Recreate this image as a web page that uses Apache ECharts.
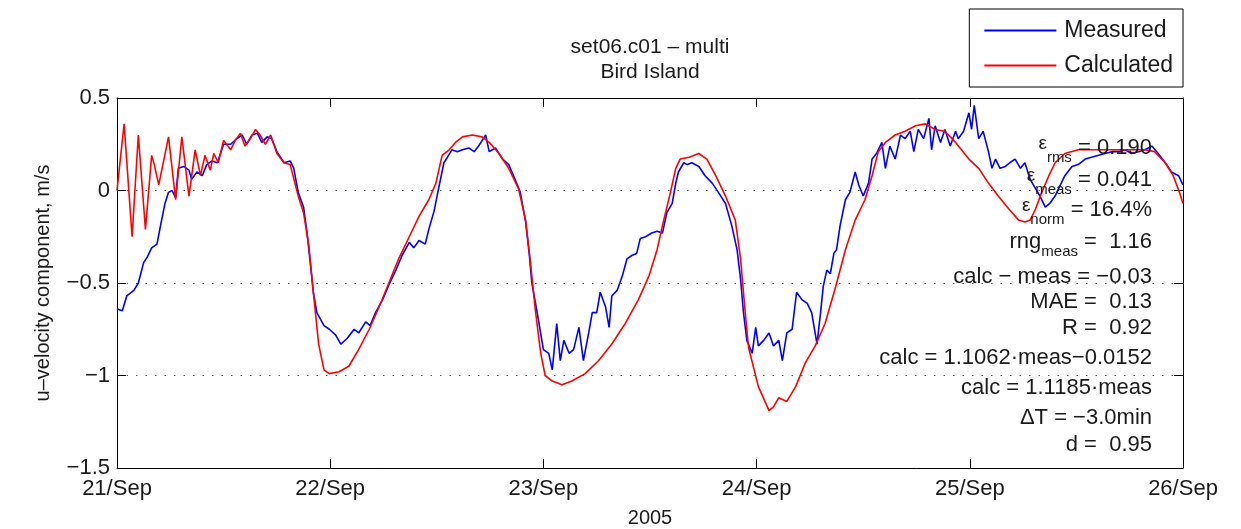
<!DOCTYPE html>
<html>
<head>
<meta charset="utf-8">
<script src="https://cdn.jsdelivr.net/npm/echarts@6/dist/echarts.min.js"></script>
<style>html,body{margin:0;padding:0;background:#fff}#c{width:1241px;height:529px}</style>
</head>
<body>
<div id="c"></div>
<script>
// ---- data (time in hours since 21/Sep 00:00, u-velocity in m/s) ----
const dayLabels = ['21/Sep', '22/Sep', '23/Sep', '24/Sep', '25/Sep', '26/Sep'];
const yTickValues = [-1.5, -1, -0.5, 0, 0.5];
const yTickLabels = ['\u22121.5', '\u22121', '\u22120.5', '0', '0.5'];
const yearLabel = '2005';
const titleLines = ['set06.c01 \u2013 multi', 'Bird Island'];
const yAxisTitle = 'u\u2013velocity component, m/s';
const seriesNames = ['Measured', 'Calculated'];

const measuredHours = [0,0.6,1.1,1.9,2.4,3.0,3.4,3.9,4.5,4.9,5.4,5.8,6.2,6.6,6.9,7.5,8.1,8.4,9.0,9.6,10.1,10.7,11.3,12.0,12.8,13.5,14.1,14.6,15.2,15.8,16.3,16.9,17.4,18.0,18.8,19.5,19.9,20.4,21.0,21.4,21.8,22.1,22.5,23.3,
23.9,24.6,25.2,25.9,26.7,27.2,28.0,28.5,29.1,29.9,30.6,31.4,32.1,32.9,33.4,34.0,34.7,35.1,35.7,36.2,36.8,37.2,37.7,38.3,38.9,39.6,40.2,40.7,41.5,41.9,42.6,43.4,44.1,44.9,45.4,46.0,46.4,46.7,47.3,
48.0,48.6,49.0,49.5,49.9,50.3,50.9,51.4,52.0,52.5,53.1,53.5,54.0,54.4,55.0,55.4,55.7,56.3,56.9,57.4,58.0,58.5,58.9,59.5,60.2,60.8,61.4,61.9,62.5,62.9,63.2,63.8,64.2,64.7,65.5,66.2,67.0,67.7,68.5,69.2,69.8,70.2,70.5,70.9,
71.5,71.9,72.2,72.8,73.4,73.9,74.5,74.9,75.4,76.0,76.5,77.1,77.7,78.2,78.8,79.2,79.5,79.9,80.3,80.7,81.0,81.4,82.0,82.5,83.1,83.5,84.0,84.6,85.0,85.5,86.1,86.5,87.0,87.6,88.2,88.7,89.3,89.7,90.2,90.8,91.4,91.7,92.1,92.7,93.2,93.8,94.4,
94.7,95.3,95.9,96.2,96.5,97.0,97.5,98.1,98.5,98.9,99.4,100.0,100.5,101.1,101.7,102.2,102.8,103.4,103.9,104.5,105.0,105.6,106.2,106.7,107.5,108.2,109.0,109.7,110.5,111.2,112.0,112.7,113.5,114.2,115.0,115.7,116.5,117.2,118.0,118.7,119.5,120.0];
const measuredValues = [-0.64,-0.65,-0.57,-0.54,-0.50,-0.39,-0.36,-0.31,-0.29,-0.19,-0.07,-0.01,0.00,-0.04,0.12,0.13,0.11,0.06,0.10,0.08,0.14,0.16,0.15,0.25,0.25,0.28,0.30,0.25,0.30,0.31,0.26,0.29,0.28,0.21,0.15,0.16,0.12,-0.01,-0.09,-0.23,-0.41,-0.55,-0.66,-0.73,
-0.75,-0.78,-0.83,-0.80,-0.75,-0.77,-0.71,-0.73,-0.66,-0.59,-0.51,-0.43,-0.35,-0.28,-0.31,-0.27,-0.29,-0.21,-0.11,0.01,0.15,0.18,0.22,0.21,0.22,0.23,0.21,0.24,0.30,0.21,0.23,0.17,0.14,0.05,-0.01,-0.17,-0.34,-0.50,-0.66,
-0.86,-0.88,-0.97,-0.72,-0.92,-0.81,-0.88,-0.86,-0.74,-0.92,-0.77,-0.66,-0.66,-0.55,-0.63,-0.74,-0.57,-0.54,-0.46,-0.37,-0.35,-0.34,-0.26,-0.25,-0.23,-0.22,-0.23,-0.12,-0.07,0.04,0.10,0.15,0.14,0.15,0.13,0.08,0.04,-0.01,-0.07,-0.19,-0.32,-0.48,-0.65,-0.81,
-0.88,-0.74,-0.84,-0.81,-0.77,-0.84,-0.81,-0.92,-0.77,-0.75,-0.55,-0.59,-0.61,-0.66,-0.83,-0.66,-0.52,-0.43,-0.45,-0.34,-0.32,-0.19,-0.05,-0.01,0.10,0.03,-0.03,0.04,0.17,0.20,0.26,0.12,0.24,0.17,0.30,0.28,0.32,0.21,0.33,0.28,0.39,0.22,0.35,0.26,0.33,0.24,0.32,
0.28,0.32,0.42,0.33,0.46,0.28,0.32,0.21,0.12,0.17,0.12,0.13,0.15,0.17,0.12,0.15,0.06,0.01,-0.03,-0.09,-0.07,-0.03,0.03,0.08,0.13,0.14,0.17,0.18,0.19,0.20,0.21,0.21,0.22,0.20,0.21,0.22,0.24,0.20,0.15,0.10,0.08,0.03];

const calculatedHours = [0,0.8,1.7,2.4,3.2,3.9,4.2,4.7,5.8,6.6,7.3,8.1,8.8,9.4,9.9,10.5,10.9,11.4,12.0,12.8,13.3,13.9,14.4,15.0,15.6,16.1,16.7,17.3,18.0,18.8,19.5,20.4,21.0,21.6,22.1,22.7,23.3,
23.9,25.0,26.1,27.2,28.4,29.5,30.6,31.7,32.9,34.0,35.1,35.9,36.6,37.4,38.1,38.9,40.0,41.1,41.9,43.0,44.1,45.2,46.0,46.5,47.1,47.7,
48.2,49.0,50.1,51.2,52.7,54.2,55.7,57.2,58.7,59.9,60.8,61.5,62.3,62.9,63.4,64.4,65.5,66.4,67.4,68.5,69.6,70.2,70.7,
71.1,72.2,73.4,73.9,74.5,75.4,76.4,77.5,78.6,79.7,80.9,82.0,83.1,84.2,85.0,85.7,86.5,87.6,88.7,89.9,91.0,92.1,93.2,94.4,
95.9,97.0,98.1,99.2,100.4,101.5,102.2,102.8,103.4,104.1,104.9,105.6,106.7,108.2,109.7,111.2,112.7,114.2,115.7,116.8,118.0,118.9,119.6,120.0];
const calculatedValues = [0,0.36,-0.25,0.30,-0.21,0.19,0.14,0.03,0.29,-0.05,0.29,-0.03,0.22,0.08,0.19,0.11,0.20,0.15,0.27,0.22,0.27,0.31,0.24,0.28,0.33,0.30,0.25,0.30,0.20,0.15,0.14,-0.03,-0.12,-0.30,-0.55,-0.83,-0.97,
-0.99,-0.98,-0.95,-0.86,-0.75,-0.63,-0.50,-0.37,-0.25,-0.14,-0.05,0.04,0.19,0.22,0.26,0.29,0.30,0.29,0.26,0.20,0.12,0.01,-0.16,-0.37,-0.65,-0.88,
-1.00,-1.03,-1.05,-1.03,-0.99,-0.92,-0.83,-0.72,-0.59,-0.46,-0.32,-0.17,-0.01,0.12,0.17,0.18,0.20,0.17,0.08,-0.03,-0.16,-0.37,-0.65,
-0.85,-1.06,-1.19,-1.17,-1.12,-1.14,-1.06,-0.93,-0.84,-0.72,-0.52,-0.32,-0.16,-0.05,0.08,0.21,0.26,0.30,0.32,0.35,0.36,0.33,0.32,0.26,
0.17,0.12,0.04,-0.03,-0.10,-0.16,-0.17,-0.16,-0.10,-0.01,0.08,0.15,0.20,0.22,0.22,0.22,0.22,0.22,0.22,0.21,0.15,0.08,-0.01,-0.07];

// statistics block (rich text: {m|main} {s|subscript})
const statLines = [
  '{e|\u03b5}{s|rms}{m| = 0.190}',
  '{e|\u03b5}{s|meas}{m| = 0.041}',
  '{e|\u03b5}{s|norm}{m| = 16.4%}',
  '{m|rng}{s|meas}{m| =  1.16}',
  '{m|calc \u2212 meas = \u22120.03}',
  '{m|MAE =  0.13}',
  '{m|R =  0.92}',
  '{m|calc = 1.1062\u00b7meas\u22120.0152}',
  '{m|calc = 1.1185\u00b7meas}',
  '{m|\u0394T = \u22123.0min}',
  '{m|d =  0.95}'
];
const statCenters = [148, 180, 210, 242, 277, 302, 328, 358, 388, 418, 445];

// ---- chart ----
const FONT = "'Liberation Sans', Arial, Helvetica, sans-serif";
const TXT = '#1a1a1a';
const zip = (a, b) => a.map((v, i) => [v, b[i]]);

const chart = echarts.init(document.getElementById('c'), null, {renderer: 'canvas'});

const axisCommon = {
  type: 'value',
  axisLine: {show: true, onZero: false, lineStyle: {color: '#000', width: 1}},
  axisTick: {show: true, inside: true, length: 9, lineStyle: {color: '#000', width: 1}},
  splitLine: {show: false},
};

const richStyles = {
  m: {fontSize: 22, lineHeight: 22, verticalAlign: 'top', fill: TXT, fontFamily: FONT},
  e: {fontSize: 19, lineHeight: 22, verticalAlign: 'top', fill: TXT, fontFamily: FONT, padding: [-3, 0, 0, 0]},
  s: {fontSize: 15, lineHeight: 15, verticalAlign: 'top', fill: TXT, fontFamily: FONT, padding: [13, 0, 0, 0]}
};

const graphics = [
  {type: 'text', x: 650, y: 47, style: {text: titleLines[0], fill: TXT, font: '21px ' + FONT, align: 'center', verticalAlign: 'middle'}},
  {type: 'text', x: 650, y: 72, style: {text: titleLines[1], fill: TXT, font: '21px ' + FONT, align: 'center', verticalAlign: 'middle'}},
  {type: 'text', x: 43, y: 283, rotation: Math.PI / 2, style: {text: yAxisTitle, fill: TXT, font: '20px ' + FONT, align: 'center', verticalAlign: 'middle'}},
  {type: 'text', x: 650, y: 518, style: {text: yearLabel, fill: TXT, font: '20px ' + FONT, align: 'center', verticalAlign: 'middle'}}
];
statLines.forEach((t, i) => {
  graphics.push({type: 'text', x: 1152, y: statCenters[i] - 11, z: 10,
    style: {text: t, align: 'right', verticalAlign: 'top', fill: TXT, rich: richStyles}});
});

// legend icon: a horizontal 2px bar centred in a 72x20 box
const legendLineIcon = 'path://M0,0L0,0ZM0,9L72,9L72,11L0,11ZM72,20L72,20Z';

const option = {
  animation: false,
  backgroundColor: '#fff',
  textStyle: {fontFamily: FONT, color: TXT},
  grid: {left: 117, right: 58, top: 98, bottom: 61, containLabel: false},
  legend: {
    data: seriesNames.map(n => ({name: n, icon: legendLineIcon})),
    orient: 'vertical',
    right: 58, top: 9,
    padding: [10, 10, 10, 15],
    itemWidth: 72, itemHeight: 20, itemGap: 12,
    symbolKeepAspect: false,
    borderColor: '#000', borderWidth: 1,
    backgroundColor: '#fff',
    textStyle: {fontSize: 23, color: TXT, fontFamily: FONT, padding: [0, 0, 0, 3]}
  },
  xAxis: [
    Object.assign({}, axisCommon, {
      position: 'bottom', min: 0, max: 120, interval: 24,
      axisLabel: {show: true, fontSize: 22, color: TXT, margin: 10, fontFamily: FONT,
        formatter: v => dayLabels[Math.round(v / 24)]}
    }),
    Object.assign({}, axisCommon, {
      position: 'top', min: 0, max: 120, interval: 24,
      axisLabel: {show: false}
    })
  ],
  yAxis: [
    Object.assign({}, axisCommon, {
      position: 'left', min: -1.5, max: 0.5, interval: 0.5,
      axisLabel: {show: true, fontSize: 22, color: TXT, margin: 7, fontFamily: FONT,
        formatter: v => yTickLabels[yTickValues.findIndex(t => Math.abs(t - v) < 1e-9)]},
      splitLine: {show: true, lineStyle: {color: '#555', width: 1, type: [1.5, 8]}}
    }),
    Object.assign({}, axisCommon, {
      position: 'right', min: -1.5, max: 0.5, interval: 0.5,
      axisLabel: {show: false}
    })
  ],
  series: [
    {name: seriesNames[0], type: 'line', xAxisIndex: 0, yAxisIndex: 0,
      data: zip(measuredHours, measuredValues), showSymbol: false, symbol: 'none',
      lineStyle: {color: '#0000ff', width: 1.6}, itemStyle: {color: '#0000ff'}, z: 3},
    {name: seriesNames[1], type: 'line', xAxisIndex: 0, yAxisIndex: 0,
      data: zip(calculatedHours, calculatedValues), showSymbol: false, symbol: 'none',
      lineStyle: {color: '#ff0000', width: 1.6}, itemStyle: {color: '#ff0000'}, z: 4}
  ],
  graphic: graphics
};
chart.setOption(option);
</script>
</body>
</html>
